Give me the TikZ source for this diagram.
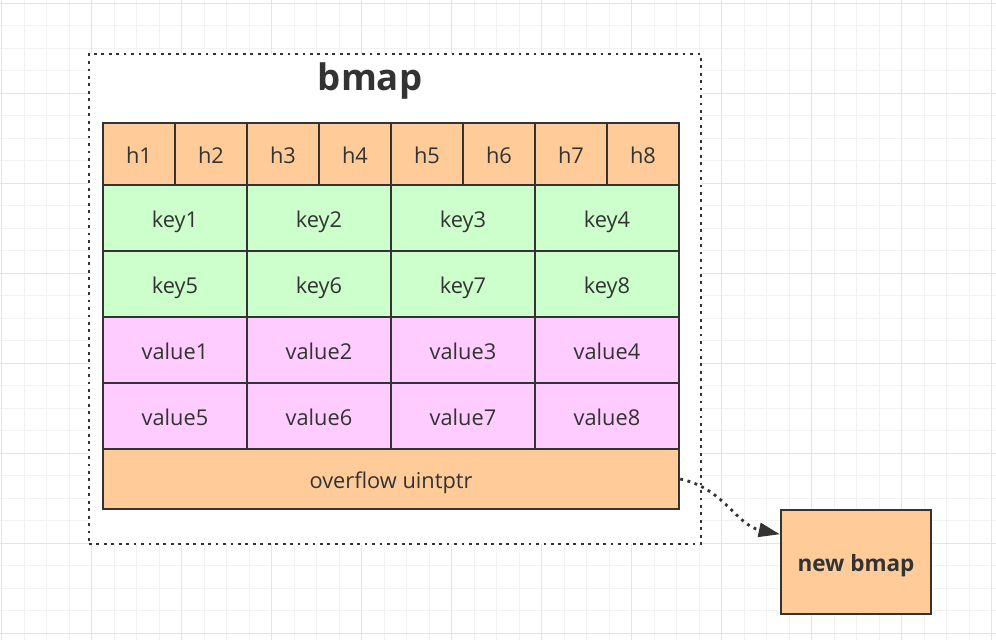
\documentclass[tikz,border=0pt]{standalone}
\usepackage{fontspec}
\setmainfont{Open Sans}
\usepackage{tikz}
\usetikzlibrary{positioning,shapes,arrows.meta}

\definecolor{ink}{HTML}{333333}
\definecolor{hfill}{HTML}{FFCC99}
\definecolor{kfill}{HTML}{CCFFCC}
\definecolor{vfill}{HTML}{FFCCFF}
\definecolor{gminor}{HTML}{F2F2F2}
\definecolor{gmajor}{HTML}{E4E4E4}

\tikzset{
	cell/.style={draw=ink, line width=1.7pt, text=ink, inner sep=0pt,
		text height=14pt, text depth=0pt,
		font=\fontsize{15.5}{18}\selectfont},
	hcell/.style={cell, fill=hfill, minimum width=1.8cm, minimum height=1.55cm},
	keycell/.style={cell, fill=kfill, minimum width=3.6cm, minimum height=1.65cm},
	valcell/.style={cell, fill=vfill, minimum width=3.6cm, minimum height=1.65cm},
	ovcell/.style={cell, fill=hfill, minimum width=14.4cm, minimum height=1.5cm},
	dotline/.style={draw=ink, line width=2pt, dash pattern=on 2pt off 3.3pt}
}

\begin{document}
\begin{tikzpicture}[x=0.025cm, y=-0.025cm]
				\useasboundingbox (0, 0) rectangle (996, 640);
				% background grid
				\foreach \i in {0,...,44}
					\draw[gminor, line width=0.7pt] (1.7+22.5*\i, 0) -- (1.7+22.5*\i, 640);
				\foreach \j in {0,...,28}
					\draw[gminor, line width=0.7pt] (0, 3.3+22.5*\j) -- (996, 3.3+22.5*\j);
				\foreach \i in {0,...,11}
					\draw[gmajor, line width=0.7pt] (1.7+90*\i, 0) -- (1.7+90*\i, 640);
				\foreach \j in {0,...,7}
					\draw[gmajor, line width=0.7pt] (0, 3.3+90*\j) -- (996, 3.3+90*\j);

				% bmap container
				\node[dotline, fill=white, minimum width=15.3cm, minimum height=12.25cm, inner sep=0pt] (bmap) at (395, 299) {};
				\node[text=ink, font=\fontsize{26}{30}\selectfont\bfseries] (title) at (370, 81) {bmap};

				\node[hcell] (h1) at (139, 154) {h1};
				\node[hcell] (h2) at (211, 154) {h2};
				\node[hcell] (h3) at (283, 154) {h3};
				\node[hcell] (h4) at (355, 154) {h4};
				\node[hcell] (h5) at (427, 154) {h5};
				\node[hcell] (h6) at (499, 154) {h6};
				\node[hcell] (h7) at (571, 154) {h7};
				\node[hcell] (h8) at (643, 154) {h8};

				\node[keycell] (k1) at (175, 218) {key1};
				\node[keycell] (k2) at (319, 218) {key2};
				\node[keycell] (k3) at (463, 218) {key3};
				\node[keycell] (k4) at (607, 218) {key4};
				\node[keycell] (k5) at (175, 284) {key5};
				\node[keycell] (k6) at (319, 284) {key6};
				\node[keycell] (k7) at (463, 284) {key7};
				\node[keycell] (k8) at (607, 284) {key8};

				\node[valcell] (v1) at (175, 350) {value1};
				\node[valcell] (v2) at (319, 350) {value2};
				\node[valcell] (v3) at (463, 350) {value3};
				\node[valcell] (v4) at (607, 350) {value4};
				\node[valcell] (v5) at (175, 416) {value5};
				\node[valcell] (v6) at (319, 416) {value6};
				\node[valcell] (v7) at (463, 416) {value7};
				\node[valcell] (v8) at (607, 416) {value8};

				\node[ovcell] (ov) at (391, 479) {overflow uintptr};

				\node[cell, fill=hfill, minimum width=3.75cm, minimum height=2.6cm,
					font=\fontsize{16}{19}\selectfont\bfseries] (nb) at (856, 562) {new bmap};

				\draw[dotline, -{Triangle[length=15pt, width=10pt]}] (ov.east) to[out=-12, in=168] (nb.160);
			\end{tikzpicture}
\end{document}
